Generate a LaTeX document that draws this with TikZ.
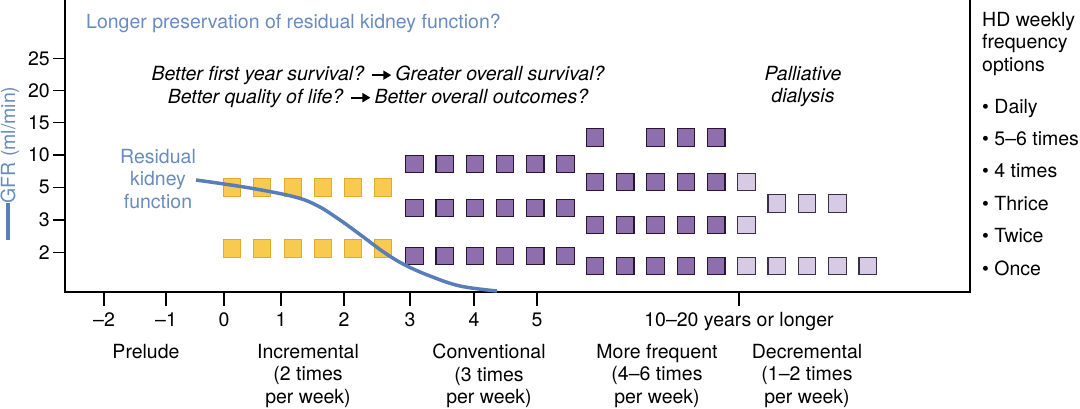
\documentclass[tikz,border=0pt]{standalone}
\usepackage{fontspec}
\setmainfont{TeX Gyre Heros}
\usetikzlibrary{arrows.meta}

\definecolor{gfrblue}{RGB}{88,126,183}
\definecolor{gfrtext}{RGB}{104,140,192}
\definecolor{incfill}{RGB}{248,202,80}
\definecolor{incdraw}{RGB}{222,172,45}
\definecolor{convfill}{RGB}{143,110,174}
\definecolor{convdraw}{RGB}{38,24,52}
\definecolor{decfill}{RGB}{214,202,228}
\definecolor{decdraw}{RGB}{58,48,68}

\newcommand{\lbl}{\fontsize{19.5}{22.5}\selectfont}
\newcommand{\thenarrow}{\tikz[baseline=-0.55ex]\draw[line width=1.8pt,-{Triangle[length=8pt,width=9pt]}] (0pt,0pt) -- (19pt,0pt);}

\begin{document}
\begin{tikzpicture}[x=1pt,y=-1pt,
  every node/.style={font=\lbl,inner sep=0pt},
  sq/.style={minimum size=17.5pt,line width=1.2pt},
  incsq/.style={sq,fill=incfill,draw=incdraw},
  convsq/.style={sq,fill=convfill,draw=convdraw},
  decsq/.style={sq,fill=decfill,draw=decdraw},
  lines/.style={anchor=north,align=center}]
\useasboundingbox (0,0) rectangle (1080,408);

% frame
\draw[line width=1.5pt] (65,0) -- (65,292) -- (970,292) -- (970,0);

% GFR axis
\foreach \v/\y in {25/58.3,20/90.7,15/122.7,10/155,5/187.3,3/220,2/252.7} {
  \draw[line width=1.2pt] (53,\y) -- (65,\y);
  \node[anchor=east] (gfr\v) at (50,\y) {\v};
}
\node[rotate=90,text=gfrtext] (gfrlbl) at (10,145) {GFR (ml/min)};
\draw[gfrblue,line width=3.2pt] (8,240) -- (8,203);

% time axis
\foreach \v/\x [count=\i] in {–2/104,–1/166,0/224,1/281,2/344,3/410,4/474,5/537} {
  \draw[line width=1.2pt] (\x,292) -- (\x,306);
  \node[anchor=base] (yr\i) at (\x,326) {\v};
}
\draw[line width=1.2pt] (739,292) -- (739,306);
\node[anchor=base] (longer) at (739,326) {10–20 years or longer};

% headings
\node[anchor=base west,text=gfrtext] (preserve) at (86,28) {Longer preservation of residual kidney function?};
\node[lines,font=\lbl\itshape] (outcomes) at (378,66)
  {Better first year survival? \thenarrow\,Greater overall survival?\\
   Better quality of life? \thenarrow\,Better overall outcomes?};
\node[lines,font=\lbl\itshape] (palliative) at (803,66) {Palliative\\dialysis};

% incremental
\foreach \x in {232,262,293,323,353,383}
  \foreach \y in {187.5,248.5}
    \node[incsq] at (\x,\y) {};

% conventional
\foreach \i in {0,...,5}
  \foreach \y in {164,208,256}
    \node[convsq] at ({414.5+30.2*\i},\y) {};

% more frequent
\foreach \i in {0,...,4}
  \foreach \y in {182,225,266}
    \node[convsq] at ({595+30.3*\i},\y) {};
\foreach \i in {0,2,3,4}
  \node[convsq] at ({595+30.3*\i},137.5) {};

% decremental
\foreach \y in {182,225,266}
  \node[decsq] at (746.5,\y) {};
\foreach \i in {1,2,3}
  \node[decsq] at ({746.5+30.3*\i},203.5) {};
\foreach \i in {1,...,4}
  \node[decsq] at ({746.5+30.3*\i},266) {};

% residual kidney function
\node[lines,text=gfrtext] (residual) at (158,149) {Residual\\kidney\\function};
\draw[gfrblue,line width=3.5pt] plot[smooth,tension=0.6] coordinates
  {(196,180) (250,188) (295,197) (318,206) (340,220) (362,236) (385,253) (405,265) (430,276) (460,286) (497,291)};

% phases
\node[lines] (prelude) at (146,344) {Prelude};
\node[lines] (incremental) at (308,344) {Incremental\\(2 times\\per week)};
\node[lines] (conventional) at (489,344) {Conventional\\(3 times\\per week)};
\node[lines] (frequent) at (657,344) {More frequent\\(4–6 times\\per week)};
\node[lines] (decremental) at (807,344) {Decremental\\(1–2 times\\per week)};

% legend
\node[anchor=north west,align=left] (hdtitle) at (982,12) {HD weekly\\frequency\\options};
\foreach \t [count=\i] in {Daily,5–6 times,4 times,Thrice,Twice,Once}
  \node[anchor=base west] (opt\i) at (982,{113+32.4*(\i-1)}) {\textbullet\ \t};
\end{tikzpicture}
\end{document}
